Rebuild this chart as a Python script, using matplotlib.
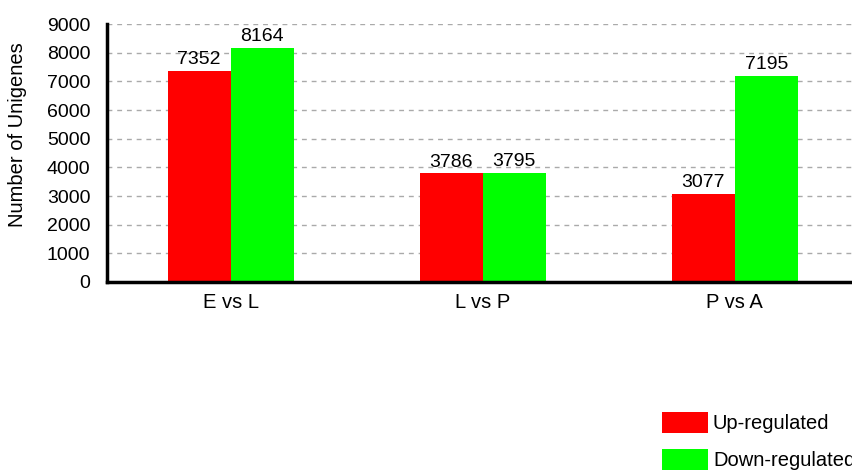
import matplotlib
matplotlib.use("Agg")
import matplotlib.pyplot as plt
import numpy as np

plt.rcParams['font.family'] = ['Liberation Sans', 'DejaVu Sans']

comparisons = ['E vs L', 'L vs P', 'P vs A']
up_regulated = [7352, 3786, 3077]
down_regulated = [8164, 3795, 7195]
series_names = ['Up-regulated', 'Down-regulated']
y_ticks = [0, 1000, 2000, 3000, 4000, 5000, 6000, 7000, 8000, 9000]

W, H = 852, 473
fig = plt.figure(figsize=(W / 100, H / 100), dpi=100)
ax = fig.add_axes([107 / W, 1 - 282 / H, (W - 107) / W, (282 - 24) / H])

x = np.arange(len(comparisons))
bw = 0.25
b1 = ax.bar(x - bw / 2, up_regulated, bw, color='#ff0000', label=series_names[0], zorder=3)
b2 = ax.bar(x + bw / 2, down_regulated, bw, color='#00ff00', label=series_names[1], zorder=3)

for bars, vals in ((b1, up_regulated), (b2, down_regulated)):
    for rect, v in zip(bars, vals):
        ax.annotate(str(v), (rect.get_x() + rect.get_width() / 2, v),
                    xytext=(0, 2), textcoords='offset points',
                    ha='center', va='bottom', fontsize=14, zorder=4)

ax.set_xlim(-0.49, 2.465)
ax.set_ylim(0, 9000)
ax.set_yticks(y_ticks)
ax.set_xticks(x)
ax.set_xticklabels(comparisons, fontsize=14.5)
ax.tick_params(axis='y', length=0, pad=12, labelsize=14)
ax.tick_params(axis='x', length=0, pad=8)
ax.set_ylabel('Number of Unigenes', fontsize=14.5)
# label sits a bit above the axis middle in the original
ax.yaxis.set_label_coords((27 - 107) / (W - 107), (282 - 135) / 258)

ax.grid(axis='y', color='#aaaaaa', linestyle=(0, (3.5, 3.5)), linewidth=1, zorder=0)
for s in ('top', 'right'):
    ax.spines[s].set_visible(False)
for s in ('left', 'bottom'):
    ax.spines[s].set_linewidth(2.5)
    ax.spines[s].set_zorder(5)

fs = 14.5
px = fs * 100 / 72
fig.legend(handles=[b1, b2], labels=series_names, loc='upper left',
           bbox_to_anchor=(662 / W, 1 - 412 / H), frameon=False, fontsize=fs,
           borderpad=0, handlelength=46 / px, handleheight=24 / px,
           handletextpad=5 / px, labelspacing=(40 - 24) / px, borderaxespad=0)

fig.savefig('out.png', dpi=100)
